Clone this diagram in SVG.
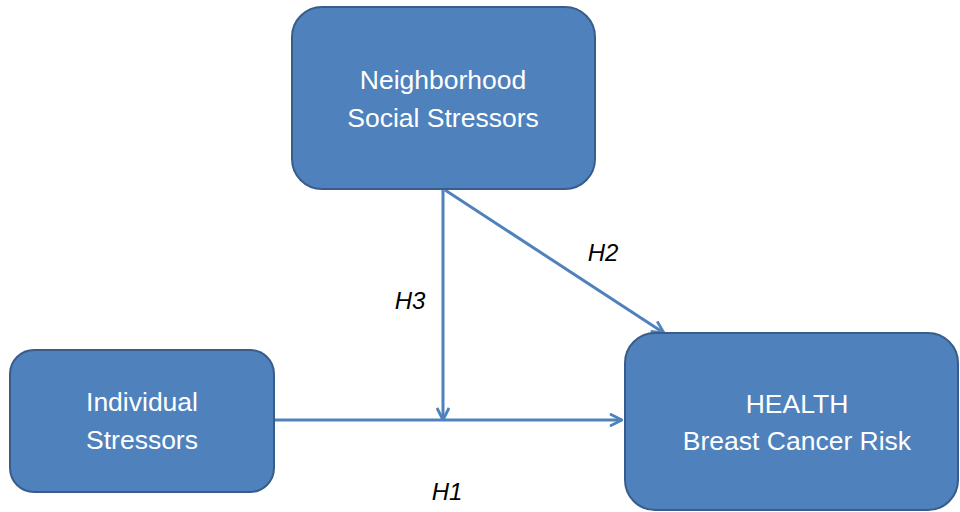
<svg xmlns="http://www.w3.org/2000/svg" width="960" height="512" viewBox="0 0 960 512">
<style>
.box{fill:#4f81bd;stroke:#385d8a;stroke-width:2}
.nt{fill:#ffffff;font-family:"Liberation Sans",Arial,sans-serif;font-size:26.5px;text-anchor:middle}
.lbl{fill:#000000;font-family:"Liberation Sans",Arial,sans-serif;font-size:24px;font-style:italic;text-anchor:middle}
.edge{stroke:#4f81bd;stroke-width:3;fill:none}
</style>
<defs>
<marker id="arr" viewBox="0 0 14 14" refX="13" refY="7" markerWidth="14" markerHeight="14" markerUnits="userSpaceOnUse" orient="auto">
<path d="M1,1 L13,7 L1,13" fill="none" stroke="#4f81bd" stroke-width="2.8"/>
</marker>
</defs>
<rect width="960" height="512" fill="#ffffff"/>
<g id="connectors">
<line class="edge" x1="275" y1="420" x2="622" y2="420" marker-end="url(#arr)"/>
<line class="edge" x1="443" y1="190" x2="443" y2="420" marker-end="url(#arr)"/>
<line class="edge" x1="445" y1="190" x2="664" y2="333" marker-end="url(#arr)"/>
</g>
<g id="neighborhood">
<rect class="box" x="292" y="7" width="303" height="182" rx="30"/>
<text class="nt" x="443" y="89">Neighborhood</text>
<text class="nt" x="443" y="127">Social Stressors</text>
</g>
<g id="individual">
<rect class="box" x="10" y="350" width="264" height="142" rx="24"/>
<text class="nt" x="142" y="411">Individual</text>
<text class="nt" x="142" y="449">Stressors</text>
</g>
<g id="health">
<rect class="box" x="625" y="333" width="333" height="177" rx="30"/>
<text class="nt" x="797" y="413">HEALTH</text>
<text class="nt" x="797" y="450">Breast Cancer Risk</text>
</g>
<g id="labels">
<text class="lbl" x="410" y="309">H3</text>
<text class="lbl" x="603" y="261">H2</text>
<text class="lbl" x="447" y="500">H1</text>
</g>
</svg>
